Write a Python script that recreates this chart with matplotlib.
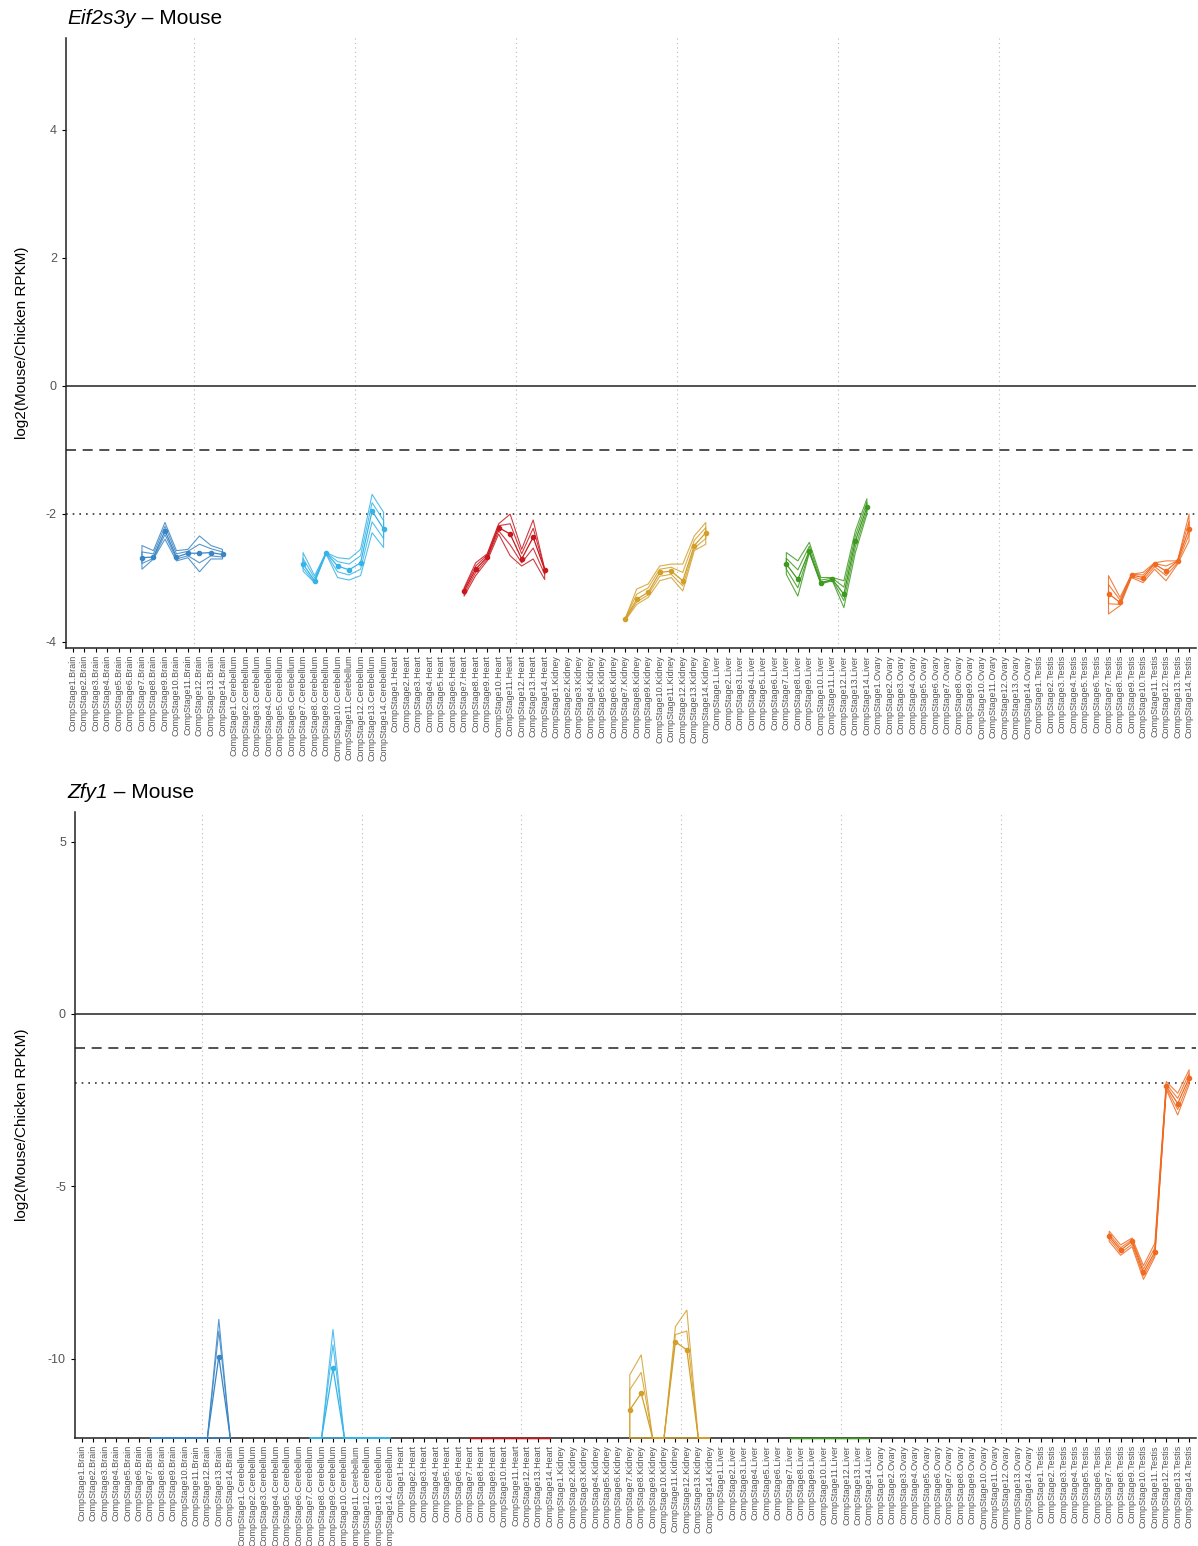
import numpy as np
import matplotlib
matplotlib.use('Agg')
import matplotlib.pyplot as plt

plt.rcParams['font.family'] = ['Liberation Sans', 'DejaVu Sans']

TISSUES = ['Brain', 'Cerebellum', 'Heart', 'Kidney', 'Liver', 'Ovary', 'Testis']
STAGES = list(range(1, 15))
SHOWN_STAGES = list(range(7, 15))
COLORS = {'Brain': '#3A85C4', 'Cerebellum': '#36B4E8', 'Heart': '#C8171D',
          'Kidney': '#D29F2A', 'Liver': '#3D9A1F', 'Ovary': '#E377C2',
          'Testis': '#F06A21'}

NEG_INF = float('-inf')
NONE8 = [NEG_INF] * 8

# Eif2s3y, stages 7-14 for each tissue
EIF_MEAN = {
    'Brain': [-2.69, -2.68, -2.27, -2.68, -2.62, -2.62, -2.61, -2.64],
    'Cerebellum': [-2.79, -3.05, -2.61, -2.82, -2.88, -2.77, -1.96, -2.24],
    'Heart': [-3.21, -2.87, -2.68, -2.22, -2.32, -2.71, -2.37, -2.88],
    'Kidney': [-3.65, -3.34, -3.23, -2.92, -2.90, -3.05, -2.50, -2.30],
    'Liver': [-2.79, -3.03, -2.58, -3.08, -3.03, -3.26, -2.43, -1.90],
    'Testis': [-3.25, -3.39, -2.96, -3.00, -2.79, -2.90, -2.74, -2.24],
}
EIF_HI = {
    'Brain': [-2.50, -2.58, -2.14, -2.58, -2.56, -2.35, -2.50, -2.56],
    'Cerebellum': [-2.61, -2.97, -2.61, -2.69, -2.71, -2.56, -1.70, -1.98],
    'Heart': [-3.16, -2.77, -2.63, -2.16, -2.01, -2.56, -2.10, -2.87],
    'Kidney': [-3.64, -3.18, -3.10, -2.82, -2.79, -2.79, -2.35, -2.14],
    'Liver': [-2.61, -2.74, -2.45, -3.00, -3.00, -3.05, -2.27, -1.77],
    'Testis': [-2.97, -3.31, -2.95, -2.92, -2.77, -2.74, -2.74, -2.01],
}
EIF_LO = {
    'Brain': [-2.87, -2.71, -2.40, -2.74, -2.69, -2.91, -2.71, -2.71],
    'Cerebellum': [-2.90, -3.08, -2.63, -3.00, -3.04, -2.97, -2.30, -2.53],
    'Heart': [-3.29, -2.97, -2.74, -2.32, -2.66, -2.82, -2.71, -3.03],
    'Kidney': [-3.67, -3.42, -3.31, -3.05, -3.00, -3.21, -2.58, -2.48],
    'Liver': [-2.95, -3.29, -2.61, -3.10, -3.05, -3.47, -2.61, -2.01],
    'Testis': [-3.57, -3.44, -3.00, -3.08, -2.87, -3.05, -2.79, -2.43],
}
EIF_HI_IN = {
    'Brain': [-2.60, -2.63, -2.20, -2.63, -2.59, -2.48, -2.55, -2.60],
    'Cerebellum': [-2.70, -3.01, -2.61, -2.75, -2.79, -2.66, -1.83, -2.11],
    'Heart': [-3.18, -2.82, -2.65, -2.19, -2.16, -2.63, -2.23, -2.87],
    'Kidney': [-3.64, -3.26, -3.16, -2.87, -2.84, -2.92, -2.42, -2.22],
    'Liver': [-2.70, -2.88, -2.51, -3.04, -3.01, -3.15, -2.35, -1.83],
    'Testis': [-3.11, -3.35, -2.95, -2.96, -2.78, -2.82, -2.74, -2.12],
}
EIF_LO_IN = {
    'Brain': [-2.78, -2.70, -2.33, -2.71, -2.66, -2.77, -2.66, -2.68],
    'Cerebellum': [-2.85, -3.07, -2.62, -2.91, -2.96, -2.87, -2.13, -2.39],
    'Heart': [-3.25, -2.92, -2.71, -2.27, -2.49, -2.77, -2.54, -2.95],
    'Kidney': [-3.66, -3.38, -3.27, -2.98, -2.95, -3.13, -2.54, -2.39],
    'Liver': [-2.87, -3.16, -2.60, -3.09, -3.04, -3.36, -2.52, -1.96],
    'Testis': [-3.41, -3.42, -2.98, -3.04, -2.83, -2.97, -2.77, -2.33],
}

# Zfy1, stages 7-14 for each tissue (-inf where not expressed)
ZFY_MEAN = {
    'Brain': [NEG_INF] * 6 + [-9.94, NEG_INF],
    'Cerebellum': [NEG_INF, NEG_INF, -10.28] + [NEG_INF] * 5,
    'Heart': NONE8,
    'Kidney': [-11.49, -11.00, NEG_INF, NEG_INF, -9.51, -9.75, NEG_INF, NEG_INF],
    'Liver': NONE8,
    'Testis': [-6.45, -6.85, -6.60, -7.50, -6.90, -2.10, -2.60, -1.85],
}
ZFY_HI = {
    'Brain': [NEG_INF] * 6 + [-8.86, NEG_INF],
    'Cerebellum': [NEG_INF, NEG_INF, -9.15] + [NEG_INF] * 5,
    'Heart': NONE8,
    'Kidney': [-10.47, -9.89, NEG_INF, NEG_INF, -9.07, -8.59, NEG_INF, NEG_INF],
    'Liver': NONE8,
    'Testis': [-6.30, -6.70, -6.50, -7.30, -6.65, -1.96, -2.30, -1.62],
}
ZFY_LO = {
    'Brain': NONE8,
    'Cerebellum': NONE8,
    'Heart': NONE8,
    'Kidney': NONE8,
    'Liver': NONE8,
    'Testis': [-6.60, -7.00, -6.75, -7.70, -7.05, -2.20, -2.93, -2.05],
}
ZFY_HI_IN = {
    'Brain': [NEG_INF] * 6 + [-9.20, NEG_INF],
    'Cerebellum': [NEG_INF, NEG_INF, -9.60] + [NEG_INF] * 5,
    'Heart': NONE8,
    'Kidney': [-10.90, -10.40, NEG_INF, NEG_INF, -9.30, -9.20, NEG_INF, NEG_INF],
    'Liver': NONE8,
    'Testis': [-6.38, -6.78, -6.55, -7.40, -6.78, -2.03, -2.45, -1.73],
}
ZFY_LO_IN = {
    'Brain': NONE8,
    'Cerebellum': NONE8,
    'Heart': NONE8,
    'Kidney': NONE8,
    'Liver': NONE8,
    'Testis': [-6.52, -6.93, -6.68, -7.60, -6.98, -2.15, -2.77, -1.95],
}


def category_labels():
    return [f'CompStage{s}.{t}' for t in TISSUES for s in STAGES]


def draw_panel(ax, mean, bands, ylim, yticks):
    labels = category_labels()
    xs = np.arange(len(labels))
    ymin = ylim[0]

    ax.axhline(0, color='#333333', lw=1.2, zorder=1)
    ax.axhline(-1, color='#333333', lw=1.2, ls=(0, (6, 4)), zorder=1)
    ax.axhline(-2, color='#333333', lw=1.2, ls=(0, (1, 3)), zorder=1)
    for k in range(6):
        ax.axvline(10.5 + 14 * k, color='#BBBBBB', lw=0.8, ls=(0, (1, 3)),
                   zorder=0)

    for t in TISSUES:
        if t not in mean:
            continue
        start = TISSUES.index(t) * 14 + SHOWN_STAGES[0] - 1
        tx = xs[start:start + len(SHOWN_STAGES)]
        col = COLORS[t]
        # -Inf values sit on the bottom edge of the panel
        for hi, lo in bands:
            y_hi = np.clip(np.array(hi[t]), ymin, None)
            y_lo = np.clip(np.array(lo[t]), ymin, None)
            ax.fill_between(tx, y_lo, y_hi, facecolor='none', edgecolor=col,
                            lw=0.8, alpha=0.85, zorder=3, clip_on=False)
        ym = np.array(mean[t])
        ax.plot(tx, np.clip(ym, ymin, None), color=col, lw=0.9, zorder=4,
                clip_on=False)
        finite = np.isfinite(ym)
        ax.plot(tx[finite], ym[finite], ls='none', color=col, marker='o',
                ms=3, zorder=4)

    ax.set_xlim(-0.6, len(labels) - 0.4)
    ax.set_ylim(*ylim)
    ax.set_yticks(yticks)
    ax.set_yticklabels([str(v) for v in yticks])
    ax.set_xticks(xs)
    ax.set_xticklabels(labels, rotation=90, fontsize=6.5, color='#555555')
    ax.tick_params(axis='x', length=3, width=0.8, pad=2)
    ax.tick_params(axis='y', labelsize=9, labelcolor='#555555', length=3,
                   width=0.8)
    for side in ('top', 'right'):
        ax.spines[side].set_visible(False)
    for side in ('left', 'bottom'):
        ax.spines[side].set_linewidth(1.1)
        ax.spines[side].set_color('#222222')
    ax.set_ylabel('log2(Mouse/Chicken RPKM)', fontsize=11)
    pos = ax.get_position()
    ax.yaxis.set_label_coords(0.024, (pos.y0 + pos.y1) / 2,
                              transform=ax.figure.transFigure)


def panel_title(fig, x, y, gene, species):
    renderer = fig.canvas.get_renderer()
    t = fig.text(x, y, gene, fontsize=15, style='italic', va='center',
                 ha='left')
    bb = t.get_window_extent(renderer).transformed(fig.transFigure.inverted())
    fig.text(bb.x1, y, ' \u2013 ' + species, fontsize=15, va='center',
             ha='left')


fig = plt.figure(figsize=(11.98, 15.46), dpi=100)

ax1 = fig.add_axes([0.0551, 0.5809, 0.9432, 0.3945])
draw_panel(ax1, EIF_MEAN, [(EIF_HI, EIF_LO), (EIF_HI_IN, EIF_LO_IN)],
           (-4.1, 5.43), [-4, -2, 0, 2, 4])
panel_title(fig, 0.056, 0.988, 'Eif2s3y', 'Mouse')

ax2 = fig.add_axes([0.0626, 0.0699, 0.9357, 0.4049])
draw_panel(ax2, ZFY_MEAN, [(ZFY_HI, ZFY_LO), (ZFY_HI_IN, ZFY_LO_IN)],
           (-12.3, 5.86), [-10, -5, 0, 5])
panel_title(fig, 0.056, 0.4877, 'Zfy1', 'Mouse')

plt.savefig('out.png', dpi=100)
